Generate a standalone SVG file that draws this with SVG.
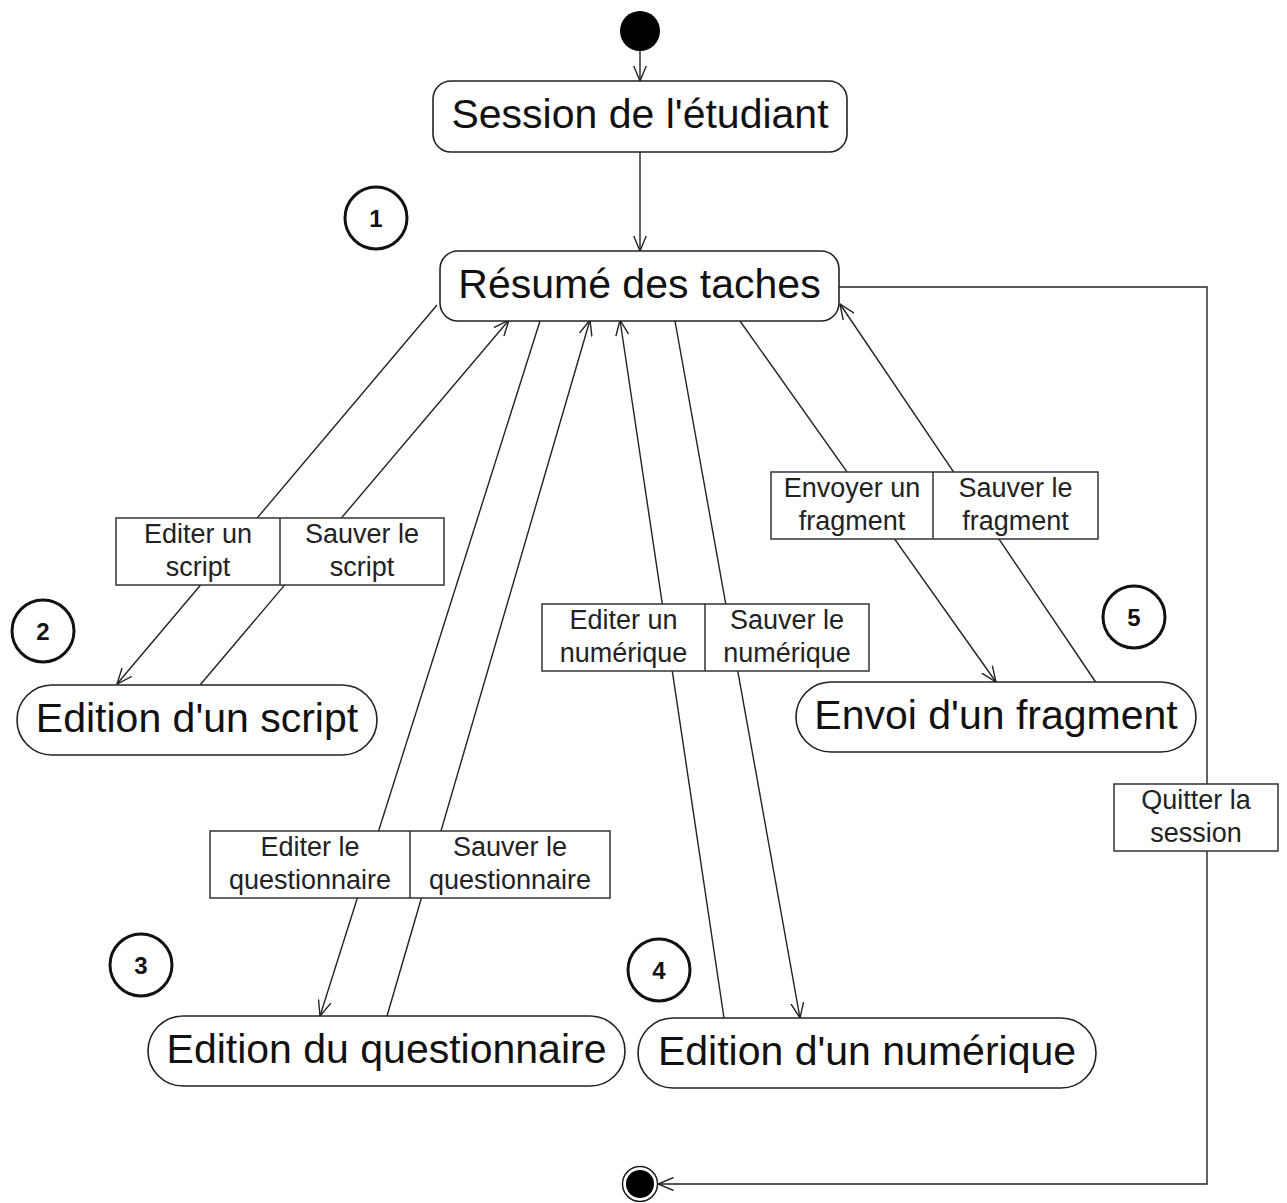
<svg xmlns="http://www.w3.org/2000/svg" width="1287" height="1203" viewBox="0 0 1287 1203">
<style>
.node rect{fill:#fff;stroke:#222;stroke-width:1.6}
.big{font-family:"Liberation Sans",Arial,sans-serif;font-size:41px;fill:#111;text-anchor:middle}
.lbl rect{fill:#fff;stroke:#333;stroke-width:1.5}
.lbl line{stroke:#333;stroke-width:1.5}
.sm{font-family:"Liberation Sans",Arial,sans-serif;font-size:27px;fill:#222;text-anchor:middle}
.num circle{fill:#fff;stroke:#111;stroke-width:3}
.nt{font-family:"Liberation Sans",Arial,sans-serif;font-size:24px;font-weight:bold;fill:#111;text-anchor:middle}
.c{fill:none;stroke:#222;stroke-width:1.4}
</style>
<defs>
<marker id="arr" viewBox="0 0 16 14" refX="15.5" refY="7" markerWidth="16" markerHeight="14" markerUnits="userSpaceOnUse" orient="auto">
<path d="M0,0.5 L15.5,7 L0,13.5" fill="none" stroke="#222" stroke-width="1.4"/>
</marker>
</defs>
<rect width="1287" height="1203" fill="#fff"/>
<g id="connectors">
<line class="c" x1="640" y1="51" x2="640" y2="81" marker-end="url(#arr)"/>
<line class="c" x1="640" y1="152" x2="640" y2="251" marker-end="url(#arr)"/>
<line class="c" x1="437" y1="305" x2="117" y2="684" marker-end="url(#arr)"/>
<line class="c" x1="200" y1="685" x2="509" y2="320" marker-end="url(#arr)"/>
<line class="c" x1="540" y1="321" x2="320" y2="1016" marker-end="url(#arr)"/>
<line class="c" x1="387" y1="1016" x2="590" y2="320" marker-end="url(#arr)"/>
<line class="c" x1="675" y1="321" x2="800" y2="1018" marker-end="url(#arr)"/>
<line class="c" x1="724" y1="1018" x2="620" y2="320" marker-end="url(#arr)"/>
<line class="c" x1="740" y1="321" x2="996" y2="682" marker-end="url(#arr)"/>
<line class="c" x1="1097" y1="684" x2="840" y2="304" marker-end="url(#arr)"/>
<path class="c" d="M839,287 H1207 V1184 H658" marker-end="url(#arr)"/>
</g>
<g id="start"><circle cx="640" cy="31" r="20" fill="#000"/></g>
<g id="end"><circle cx="640" cy="1184" r="17.5" fill="#fff" stroke="#222" stroke-width="1.5"/><circle cx="640" cy="1184" r="14" fill="#000"/></g>
<g id="session" class="node"><rect x="433" y="81" width="414" height="71" rx="18"/><text class="big" x="640" y="128">Session de l'étudiant</text></g>
<g id="resume" class="node"><rect x="440" y="251" width="399" height="70" rx="18"/><text class="big" x="639.5" y="298">Résumé des taches</text></g>
<g id="script" class="node"><rect x="17" y="685" width="360" height="70" rx="35"/><text class="big" x="197" y="732">Edition d'un script</text></g>
<g id="questionnaire" class="node"><rect x="148" y="1016" width="477" height="70" rx="35"/><text class="big" x="386.5" y="1063">Edition du questionnaire</text></g>
<g id="numerique" class="node"><rect x="638" y="1018" width="458" height="70" rx="35"/><text class="big" x="867" y="1065">Edition d'un numérique</text></g>
<g id="fragment" class="node"><rect x="796" y="682" width="400" height="70" rx="35"/><text class="big" x="996" y="729">Envoi d'un fragment</text></g>
<g id="lbl-script" class="lbl"><rect x="116" y="518" width="328" height="67"/><line x1="280" y1="518" x2="280" y2="585"/>
<text class="sm" x="198" y="543">Editer un</text><text class="sm" x="198" y="576">script</text>
<text class="sm" x="362" y="543">Sauver le</text><text class="sm" x="362" y="576">script</text></g>
<g id="lbl-questionnaire" class="lbl"><rect x="210" y="831" width="400" height="67"/><line x1="410" y1="831" x2="410" y2="898"/>
<text class="sm" x="310" y="856">Editer le</text><text class="sm" x="310" y="889">questionnaire</text>
<text class="sm" x="510" y="856">Sauver le</text><text class="sm" x="510" y="889">questionnaire</text></g>
<g id="lbl-numerique" class="lbl"><rect x="542" y="604" width="327" height="67"/><line x1="705" y1="604" x2="705" y2="671"/>
<text class="sm" x="623.5" y="629">Editer un</text><text class="sm" x="623.5" y="662">numérique</text>
<text class="sm" x="787" y="629">Sauver le</text><text class="sm" x="787" y="662">numérique</text></g>
<g id="lbl-fragment" class="lbl"><rect x="771" y="472" width="327" height="67"/><line x1="933" y1="472" x2="933" y2="539"/>
<text class="sm" x="852" y="497">Envoyer un</text><text class="sm" x="852" y="530">fragment</text>
<text class="sm" x="1015.5" y="497">Sauver le</text><text class="sm" x="1015.5" y="530">fragment</text></g>
<g id="lbl-quit" class="lbl"><rect x="1114" y="784" width="164" height="67"/>
<text class="sm" x="1196" y="809">Quitter la</text><text class="sm" x="1196" y="842">session</text></g>
<g id="n1" class="num"><circle cx="376" cy="218" r="31"/><text class="nt" x="376" y="227">1</text></g>
<g id="n2" class="num"><circle cx="43" cy="631" r="31"/><text class="nt" x="43" y="640">2</text></g>
<g id="n3" class="num"><circle cx="141" cy="965" r="31"/><text class="nt" x="141" y="974">3</text></g>
<g id="n4" class="num"><circle cx="659" cy="970" r="31"/><text class="nt" x="659" y="979">4</text></g>
<g id="n5" class="num"><circle cx="1134" cy="617" r="31"/><text class="nt" x="1134" y="626">5</text></g>
</svg>
